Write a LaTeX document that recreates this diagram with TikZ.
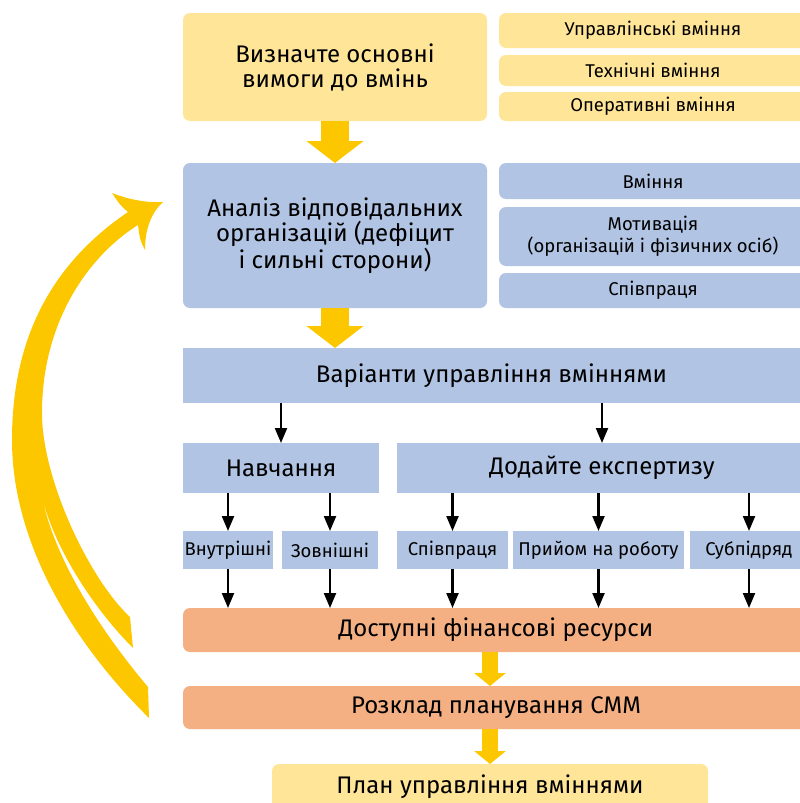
\documentclass[tikz,border=0pt]{standalone}
\usepackage{fontspec}
\setmainfont{Fira Sans}
\usetikzlibrary{arrows.meta,positioning}

\definecolor{boxyellow}{HTML}{FFE597}
\definecolor{boxblue}{HTML}{B1C4E3}
\definecolor{boxorange}{HTML}{F4B083}
\definecolor{arrowyellow}{HTML}{FDC700}

\newcommand{\fbig}{\fontsize{24pt}{25pt}\selectfont}
\newcommand{\fmid}{\fontsize{18.5pt}{22pt}\selectfont}
\newcommand{\fsmall}{\fontsize{18.5pt}{20pt}\selectfont}

\begin{document}
\begin{tikzpicture}[x=1pt, y=-1pt,
    box/.style={inner sep=0pt, outer sep=0pt, align=center, anchor=north west},
    keybox/.style={box, fill=boxyellow, rounded corners=7pt},
    infobox/.style={box, fill=boxblue, rounded corners=7pt},
    optbox/.style={box, fill=boxblue},
    costbox/.style={box, fill=boxorange, rounded corners=7pt},
    bigarrow/.style={draw=arrowyellow, line width=28pt, -{Triangle[length=22pt, width=56pt]}},
    smallarrow/.style={draw=arrowyellow, line width=16pt, -{Triangle[length=13pt, width=31pt]}},
    flow/.style={draw=black, line width=2.2pt, -{Triangle[length=15pt, width=12pt]}},
  ]
  \path[use as bounding box] (0,0) rectangle (800,803);
  \clip (0,0) rectangle (800,803);

  % Requirements
  \node[keybox, minimum width=304pt, minimum height=108pt, font=\fbig]
    (req) at (183,13) {Визначте основні\\вимоги до вмінь};
  \foreach \y/\h/\name/\txt in {13/35/mgmt/Управлінські вміння,
                                55/31/tech/Технічні вміння,
                                92/29/oper/Оперативні вміння}
    \node[keybox, minimum width=308pt, minimum height=\h pt, font=\fmid]
      (\name) at (499,\y) {\txt};

  % Analysis
  \node[infobox, minimum width=304pt, minimum height=145pt, font=\fbig]
    (analysis) at (183,163) {Аналіз відповідальних\\організацій (дефіцит\\і сильні сторони)};
  \foreach \y/\h/\name/\txt in {163/36/skills/Вміння,
                                207/59/motiv/{Мотивація\\(організацій і фізичних осіб)},
                                273/35/coop/Співпраця}
    \node[infobox, minimum width=308pt, minimum height=\h pt, font=\fmid]
      (\name) at (499,\y) {\txt};

  % Options
  \node[optbox, minimum width=617pt, minimum height=55pt, font=\fbig]
    (options) at (183,348) {Варіанти управління вміннями};
  \node[optbox, minimum width=196pt, minimum height=50pt, font=\fbig]
    (training) at (183,443) {Навчання};
  \node[optbox, minimum width=410pt, minimum height=50pt, font=\fbig]
    (expert) at (397,443) {Додайте експертизу};
  \foreach \x/\w/\name/\txt in {183/90/internal/Внутрішні, 282/96/external/Зовнішні,
                                397/111/partner/Співпраця, 513/171/hiring/Прийом на роботу,
                                690/118/subcontract/Субпідряд}
    \node[optbox, minimum width=\w pt, minimum height=38pt, font=\fsmall]
      (\name) at (\x,531) {\txt};

  % Resources and plan
  \node[costbox, minimum width=626pt, minimum height=44pt, font=\fbig]
    (funds) at (183,608) {Доступні фінансові ресурси};
  \node[costbox, minimum width=626pt, minimum height=43pt, font=\fbig]
    (schedule) at (183,686) {Розклад планування СММ};
  \node[keybox, minimum width=436pt, minimum height=46pt, font=\fbig]
    (plan) at (272,764) {План управління вміннями};

  % Connectors
  \draw[bigarrow] (req.south) -- (analysis.north);
  \draw[bigarrow] (analysis.south) -- (analysis.south |- options.north);
  \draw[flow] (training.north |- options.south) -- (training.north);
  \draw[flow] (expert.north |- options.south) -- (expert.north);
  \foreach \src/\dst in {training/internal, training/external, expert/partner,
                         expert/hiring, expert/subcontract}
    \draw[flow] (\dst.north |- \src.south) -- (\dst.north);
  \foreach \n in {internal, external, partner, hiring, subcontract}
    \draw[flow] (\n.south) -- (\n.south |- funds.north);
  \draw[smallarrow] (plan.north |- funds.south) -- (plan.north |- schedule.north);
  \draw[smallarrow] (plan.north |- schedule.south) -- (plan.north);

  % Feedback loop
  \fill[arrowyellow] (138,225)
    .. controls (90,255) and (42,320) .. (42,413)
    .. controls (42,480) and (90,580) .. (130,617)
    -- (133,648)
    .. controls (95,610) and (55,550) .. (42,497)
    .. controls (55,560) and (100,630) .. (148,687)
    -- (149,718)
    .. controls (70,640) and (12,540) .. (12,440)
    .. controls (12,340) and (50,265) .. (128,212)
    .. controls (120,205) .. (112,193)
    .. controls (130,200) and (148,203) .. (163,202)
    .. controls (152,212) and (145,228) .. (145,250)
    .. controls (140,240) .. cycle;
\end{tikzpicture}
\end{document}
